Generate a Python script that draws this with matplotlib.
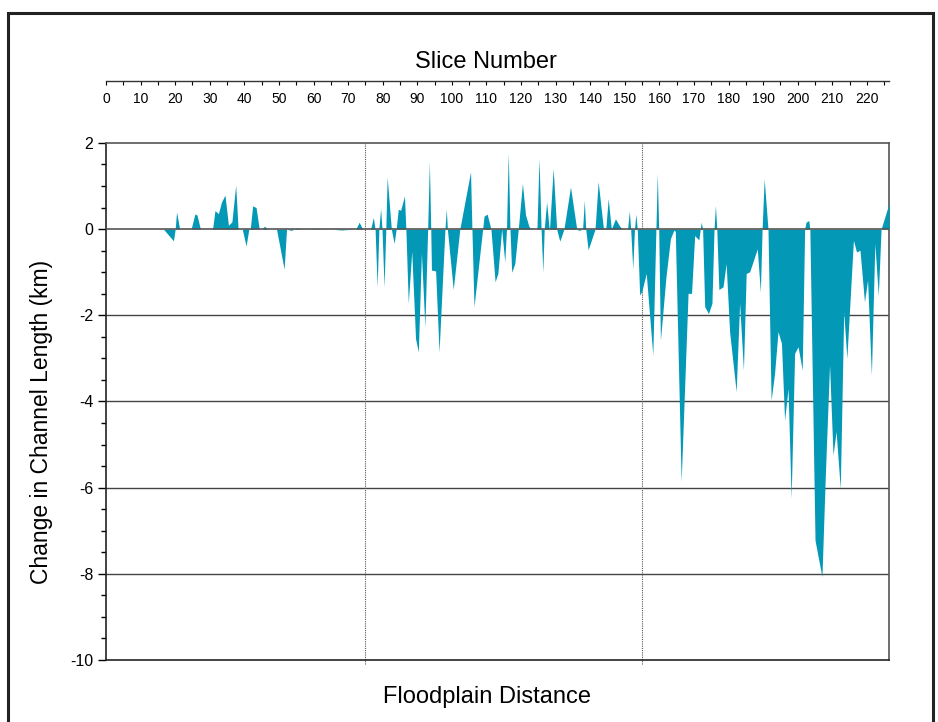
import numpy as np
import matplotlib
matplotlib.use('Agg')
import matplotlib.pyplot as plt
from matplotlib.patches import Rectangle
from matplotlib.ticker import MultipleLocator

plt.rcParams['font.family'] = ['Liberation Sans', 'DejaVu Sans']
plt.rcParams['axes.unicode_minus'] = False

# slice number (position along floodplain) and change in channel length (km)
slice_pos = [
    0, 16.6, 19.5, 20.0, 20.4, 21.3, 24.6, 25.7, 26.3, 27.3, 30.8, 31.5, 32.5, 33.4, 34.4,
    35.4, 36.4, 37.5, 38.2, 39.4, 40.5, 41.3, 41.7, 42.4, 43.4, 44.3, 45.2, 45.8, 46.8,
    49.3, 51.5, 52.2, 53.6, 55, 57, 60, 65, 68, 72.2, 73.2, 74.2,
    76.5, 77.3, 77.8, 78.4, 78.9, 79.4, 79.8, 80.4, 80.9, 81.3, 82.5, 83.3, 83.9, 84.5,
    85.2, 86.3, 86.7, 87.4, 88.4, 89.5, 90.3, 91.2, 92.2, 93.0, 93.5, 93.9, 94.1, 95.3,
    96.3, 98.0, 98.4, 98.7, 100.4, 102.3, 105.4, 105.8, 106.4, 108.9, 109.3, 110.2, 111.3,
    112.5, 113.3, 114.4, 115.3, 115.8, 116.3, 116.8, 117.3, 118.2, 119.2,
    120.4, 121.3, 122.3, 123.0, 124.6, 125.2, 125.8, 126.3, 126.7, 127.4, 128.2, 129.3,
    130.3, 131.2, 132.4, 134.3, 136.1, 136.7, 137.8, 138.3, 138.7, 139.4, 141.4, 142.3,
    143.8, 144.5, 145.2, 146.1, 147.3, 148.5, 149.3, 150.8, 151.3, 151.7, 152.3, 152.8,
    153.2, 153.6, 154.3, 154.9, 156.2, 158.1, 159.0, 159.4, 159.8, 160.3, 161.9, 163.2,
    164.2, 164.6, 166.3, 168.3, 169.3, 170.2, 171.4, 172.1, 172.5, 173.1, 174.2, 175.2,
    175.8, 176.2, 176.6, 177.2, 178.4, 179.3, 180.3, 182.2, 183.2, 184.3, 185.1, 186.1,
    188.3, 189.2, 189.7, 190.3, 191.4,
    192.3, 193.3, 194.3, 195.3, 196.2, 197.2, 198.1, 199.1, 200.1, 201.3, 202.0, 202.4,
    203.2, 203.5, 205.0, 207.0, 208.0, 209.2, 210.2, 211.1, 212.3, 213.3, 214.2, 216.1,
    217.0, 218.0, 219.3, 220.2, 221.3, 222.3, 223.3, 224.1, 226.4,
]
change_km = [
    0, 0, -0.27, 0, 0.40, 0, 0, 0.35, 0.33, 0, 0, 0.43, 0.36, 0.63, 0.79,
    0.09, 0.17, 1.02, 0, 0, -0.39, 0, 0, 0.54, 0.50, 0, 0, 0.07, 0,
    0, -0.93, 0, -0.03, 0.02, 0, 0.01, 0, -0.02, 0, 0.16, 0,
    0, 0.27, 0, -1.34, 0, 0.48, 0, -1.34, 0, 1.21, 0, -0.33, 0, 0.46,
    0.44, 0.77, 0, -1.72, -0.52, -2.54, -2.85, -0.56, -2.27, 0, 1.56, 0, -0.95, -0.97,
    -2.85, 0, 0.47, 0, -1.40, 0, 1.33, 0, -1.80, 0, 0.30, 0.35, 0,
    -1.22, -1.03, 0, -0.76, 0, 1.77, 0, -1.0, -0.80, 0,
    1.06, 0.33, 0.06, 0, 0, 1.64, 0, -1.0, 0, 0.63, -0.05, 1.41,
    0, -0.28, 0, 0.98, 0, -0.03, 0, 0.67, 0, -0.48, 0, 1.10,
    0.03, 0, 0.71, 0, 0.24, 0.07, 0, 0, 0.42, 0, -0.92, 0,
    0.35, 0, -1.53, -1.45, -1.03, -2.92, 0, 1.29, 0, -2.58, -1.11, -0.22,
    -0.02, -0.05, -5.86, -1.49, -1.49, -0.15, -0.25, 0.16, 0, -1.80, -1.96, -1.72,
    0, 0.55, 0, -1.40, -1.34, -0.80, -2.38, -3.77, -1.72, -3.27, -1.03, -0.99,
    -0.46, -1.46, 0, 1.17, 0,
    -3.97, -3.35, -2.38, -2.65, -4.43, -3.70, -6.25, -2.88, -2.73, -3.27, 0, 0.16,
    0.20, 0, -7.22, -8.07, -5.67, -3.15, -5.24, -4.70, -6.02, -1.92, -3.0, -0.26,
    -0.53, -0.49, -1.69, -1.18, -3.39, -0.34, -1.54, 0, 0.60,
]
# reach boundaries (slice numbers)
boundaries = [75, 155]

fill_color = '#0399b6'
x_max = 226.4

fig = plt.figure(figsize=(9.38, 7.22), dpi=100)

# main plot
ax = fig.add_axes([0.1130, 0.0859, 0.8348, 0.7161])
ax.fill_between(slice_pos, 0, change_km, color=fill_color, linewidth=0, zorder=3)
ax.set_xlim(0, x_max)
ax.set_ylim(-10, 2)

for yv in [-2, -4, -6, -8]:
    ax.axhline(yv, color='#444444', lw=1.0, zorder=1)
ax.axhline(0, color='#555555', lw=1.2, zorder=4)

for b in boundaries:
    ax.axvline(b, ymin=-0.007, ymax=1, color='#555555', lw=0.8,
               linestyle=(0, (1, 1)), zorder=2, clip_on=False)

ax.set_xticks([])
ax.yaxis.set_major_locator(MultipleLocator(2))
ax.yaxis.set_minor_locator(MultipleLocator(0.5))
ax.tick_params(axis='y', which='major', length=6, width=1, labelsize=11.5, pad=3)
ax.tick_params(axis='y', which='minor', length=3.5, width=1)
for side in ['left', 'bottom']:
    ax.spines[side].set_color('#222222')
    ax.spines[side].set_linewidth(1.2)
for side in ['top', 'right']:
    ax.spines[side].set_color('#555555')
    ax.spines[side].set_linewidth(1.2)

# slice number scale above the plot
ax_top = fig.add_axes([0.1130, 0.8878, 0.8348, 0.0001])
ax_top.set_xlim(0, x_max)
ax_top.patch.set_visible(False)
for side in ['left', 'right', 'top']:
    ax_top.spines[side].set_visible(False)
ax_top.spines['bottom'].set_color('#333333')
ax_top.spines['bottom'].set_linewidth(1.0)
ax_top.set_yticks([])
ax_top.set_xticks(np.arange(0, 221, 10))
ax_top.xaxis.set_minor_locator(MultipleLocator(5))
ax_top.tick_params(axis='x', which='both', length=3, width=0.8, labelsize=10, pad=5)

fig.text(486 / 938, 1 - 62 / 722, 'Slice Number', ha='center', va='center', fontsize=17)
fig.text(487 / 938, 1 - 697 / 722, 'Floodplain Distance', ha='center', va='center', fontsize=17)
fig.text(42 / 938, 1 - 422 / 722, 'Change in Channel Length (km)', ha='center', va='center',
         rotation=90, fontsize=16.5)

# outer frame
fig.add_artist(Rectangle((8 / 938, -0.05), 925 / 938, 1.05 - 13 / 722,
                         transform=fig.transFigure, fill=False, edgecolor='#222222', lw=2.2))

fig.savefig('out.png', dpi=100)
